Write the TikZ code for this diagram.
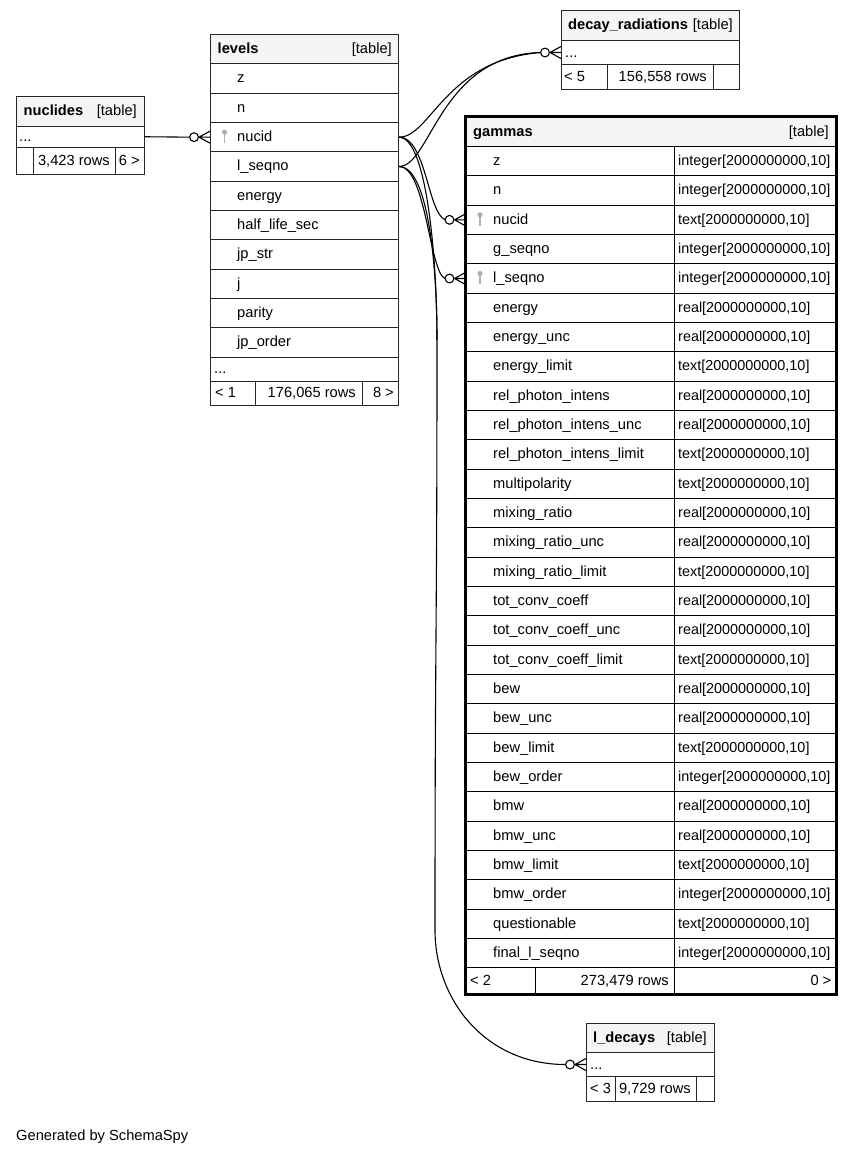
\documentclass[tikz,border=0pt]{standalone}
\usepackage{fontspec}
\setmainfont{Liberation Sans}
\usetikzlibrary{calc}

\definecolor{hdrgray}{RGB}{245,245,245}
\definecolor{keygray}{RGB}{175,175,175}
\newcommand{\fsz}{\fontsize{14.67}{17}\selectfont}

\tikzset{
  cell/.style={draw=black!85, line width=1pt, rectangle, anchor=north west,
    inner sep=0pt, minimum height=29.33pt},
  hdr/.style={cell, fill=hdrgray},
  txt/.style={anchor=west, inner sep=0pt, text height=12pt, text depth=3pt, font=\fsz},
  rtxt/.style={txt, anchor=east},
  ttl/.style={txt, font=\fsz\bfseries},
  typtxt/.style={txt, font=\fontsize{14.4}{17}\selectfont},
  conn/.style={black, line width=1.1pt},
  gmframe/.style={draw=black, line width=3pt},
}

\begin{document}
\begin{tikzpicture}[x=1pt,y=-1pt]
\useasboundingbox (0,0) rectangle (853,1156);

% nuclides
\node[hdr, minimum width=128, minimum height=29.5] (nc) at (16,96) {};
\node[ttl] (nc-name) at ($(nc.west)+(7.5,0)$) {nuclides};
\node[rtxt] (nc-kind) at ($(nc.east)+(-8,0)$) {[table]};
\node[cell, minimum width=128, minimum height=21.5] (nc-dots) at (16,125.5) {};
\node[txt] (nc-dots-t) at ($(nc-dots.west)+(3,0)$) {...};
\node[cell, minimum width=17, minimum height=26.5] (nc-prev) at (16,147) {};
\node[cell, minimum width=82, minimum height=26.5] (nc-rows) at (33,147) {};
\node[rtxt] (nc-rows-t) at ($(nc-rows.east)+(-6,0)$) {3,423 rows};
\node[cell, minimum width=29, minimum height=26.5] (nc-next) at (115,147) {};
\node[rtxt] (nc-next-t) at ($(nc-next.east)+(-5,0)$) {6 >};

% levels
\node[hdr, minimum width=188] (lv) at (210,34) {};
\node[ttl] (lv-name) at ($(lv.west)+(7.5,0)$) {levels};
\node[rtxt] (lv-kind) at ($(lv.east)+(-7,0)$) {[table]};
\foreach \nm/\txt [count=\i from 0] in {z/z, n/n, nucid/nucid, lseqno/l\_seqno,
    energy/energy, halflife/half\_life\_sec, jpstr/jp\_str, j/j, parity/parity,
    jporder/jp\_order} {
  \node[cell, minimum width=188] (lv-\nm) at (210,{63.33+29.33*\i}) {};
  \node[txt] (lv-\nm-t) at ($(lv-\nm.west)+(27,0)$) {\txt};
}
\node[cell, minimum width=188, minimum height=24] (lv-dots) at (210,356.63) {};
\node[txt] (lv-dots-t) at ($(lv-dots.west)+(4,0)$) {...};
\node[cell, minimum width=45, minimum height=24.5] (lv-prev) at (210,380.63) {};
\node[txt] (lv-prev-t) at ($(lv-prev.west)+(5,0)$) {< 1};
\node[cell, minimum width=107, minimum height=24.5] (lv-rows) at (255,380.63) {};
\node[rtxt] (lv-rows-t) at ($(lv-rows.east)+(-7,0)$) {176,065 rows};
\node[cell, minimum width=36, minimum height=24.5] (lv-next) at (362,380.63) {};
\node[rtxt] (lv-next-t) at ($(lv-next.east)+(-5,0)$) {8 >};

% decay_radiations
\node[hdr, minimum width=178, minimum height=30] (dr) at (561,10) {};
\node[ttl] (dr-name) at ($(dr.west)+(7,0)$) {decay\_radiations};
\node[rtxt] (dr-kind) at ($(dr.east)+(-7,0)$) {[table]};
\node[cell, minimum width=178, minimum height=24] (dr-dots) at (561,40) {};
\node[txt] (dr-dots-t) at ($(dr-dots.west)+(4,0)$) {...};
\node[cell, minimum width=46, minimum height=25] (dr-prev) at (561,64) {};
\node[txt] (dr-prev-t) at ($(dr-prev.west)+(3,0)$) {< 5};
\node[cell, minimum width=106, minimum height=25] (dr-rows) at (607,64) {};
\node[rtxt] (dr-rows-t) at ($(dr-rows.east)+(-7,0)$) {156,558 rows};
\node[cell, minimum width=26, minimum height=25] (dr-next) at (713,64) {};

% gammas
\node[hdr, minimum width=370, minimum height=29.5] (gm) at (465.5,116.5) {};
\node[ttl] (gm-name) at ($(gm.west)+(7.5,0)$) {gammas};
\node[rtxt] (gm-kind) at ($(gm.east)+(-7.5,0)$) {[table]};
\foreach \nm/\txt/\typ [count=\i from 0] in {
    z/z/integer, n/n/integer, nucid/nucid/text, gseqno/g\_seqno/integer,
    lseqno/l\_seqno/integer, energy/energy/real, energyunc/energy\_unc/real,
    energylim/energy\_limit/text, rpi/rel\_photon\_intens/real,
    rpiunc/rel\_photon\_intens\_unc/real, rpilim/rel\_photon\_intens\_limit/text,
    multipol/multipolarity/text, mixing/mixing\_ratio/real,
    mixingunc/mixing\_ratio\_unc/real, mixinglim/mixing\_ratio\_limit/text,
    tcc/tot\_conv\_coeff/real, tccunc/tot\_conv\_coeff\_unc/real,
    tcclim/tot\_conv\_coeff\_limit/text, bew/bew/real, bewunc/bew\_unc/real,
    bewlim/bew\_limit/text, beworder/bew\_order/integer, bmw/bmw/real,
    bmwunc/bmw\_unc/real, bmwlim/bmw\_limit/text, bmworder/bmw\_order/integer,
    quest/questionable/text, final/final\_l\_seqno/integer} {
  \node[cell, draw=black, minimum width=208.5] (gm-\nm) at (465.5,{146+29.33*\i}) {};
  \node[cell, draw=black, minimum width=161.5] (gm-\nm-type) at (674,{146+29.33*\i}) {};
  \node[txt] (gm-\nm-t) at ($(gm-\nm.west)+(27.5,0)$) {\txt};
  \node[typtxt] (gm-\nm-tt) at ($(gm-\nm-type.west)+(4,0)$) {\typ[2000000000,10]};
}
\node[cell, draw=black, minimum width=69.5, minimum height=26.3] (gm-prev) at (465.5,967.24) {};
\node[txt] (gm-prev-t) at ($(gm-prev.west)+(4.5,0)$) {< 2};
\node[cell, draw=black, minimum width=139, minimum height=26.3] (gm-rows) at (535,967.24) {};
\node[rtxt] (gm-rows-t) at ($(gm-rows.east)+(-6,0)$) {273,479 rows};
\node[cell, draw=black, minimum width=161.5, minimum height=26.3] (gm-next) at (674,967.24) {};
\node[rtxt] (gm-next-t) at ($(gm-next.east)+(-5,0)$) {0 >};
\draw[gmframe] (gm.north west) rectangle (gm-next.south east);

% l_decays
\node[hdr, minimum width=128, minimum height=29] (ld) at (586,1023) {};
\node[ttl] (ld-name) at ($(ld.west)+(7,0)$) {l\_decays};
\node[rtxt] (ld-kind) at ($(ld.east)+(-8,0)$) {[table]};
\node[cell, minimum width=128, minimum height=24] (ld-dots) at (586,1052) {};
\node[txt] (ld-dots-t) at ($(ld-dots.west)+(4,0)$) {...};
\node[cell, minimum width=29, minimum height=25] (ld-prev) at (586,1076) {};
\node[txt] (ld-prev-t) at ($(ld-prev.west)+(4,0)$) {< 3};
\node[cell, minimum width=81, minimum height=25] (ld-rows) at (615,1076) {};
\node[rtxt] (ld-rows-t) at ($(ld-rows.east)+(-6,0)$) {9,729 rows};
\node[cell, minimum width=18, minimum height=25] (ld-next) at (696,1076) {};

% key icons
\foreach \k in {lv-nucid, gm-nucid, gm-lseqno} {
  \draw[keygray, line width=1.5pt] ($(\k.west)+(14.5,-4)$) -- ($(\k.west)+(14.5,6)$);
  \fill[keygray] ($(\k.west)+(14.5,-5)$) circle[radius=2.6];
}

% zero-or-many ends: circle and crow's foot
\foreach \tg in {lv-nucid, dr-dots, gm-nucid, gm-lseqno, ld-dots} {
  \coordinate (\tg-in) at ($(\tg.west)+(-20.5,0)$);
  \draw[conn] ($(\tg.west)+(-11,0)$) -- ($(\tg.west)+(0,-6)$)
              ($(\tg.west)+(-11,0)$) -- (\tg.west)
              ($(\tg.west)+(-11,0)$) -- ($(\tg.west)+(0,6)$);
  \draw[conn, fill=white] ($(\tg.west)+(-16,0)$) circle[radius=4.4];
}

% nuclides -> levels
\draw[conn] (nc-dots.east) -- (lv-nucid-in);
% levels -> decay_radiations
\draw[conn] (lv-nucid.east) .. controls +(32,0) and +(-96,8) .. (dr-dots-in);
\draw[conn] (lv-lseqno.east) .. controls +(32,0) and +(-101,3) .. (dr-dots-in);
% levels -> gammas
\draw[conn] (lv-nucid.east) .. controls +(27,0) and +(-17.5,-8) .. (gm-nucid-in);
\draw[conn] (lv-lseqno.east) .. controls +(27,0) and +(-15.5,-6) .. (gm-lseqno-in);
% levels -> l_decays
\coordinate (ld-top) at (437,340);
\coordinate (ld-bend) at (435,930);
\draw[conn] (lv-nucid.east) .. controls +(28,0) and +(0,-80) .. (ld-top)
  .. controls +(0,300) and +(0,-300) .. (ld-bend)
  .. controls +(0,70) and +(-80,0) .. (ld-dots-in);
\draw[conn] (lv-lseqno.east) .. controls +(30,0) and +(0,-70) .. (ld-top);

% footer
\node[txt] (gen) at (16,1136) {Generated by SchemaSpy};
\end{tikzpicture}
\end{document}
